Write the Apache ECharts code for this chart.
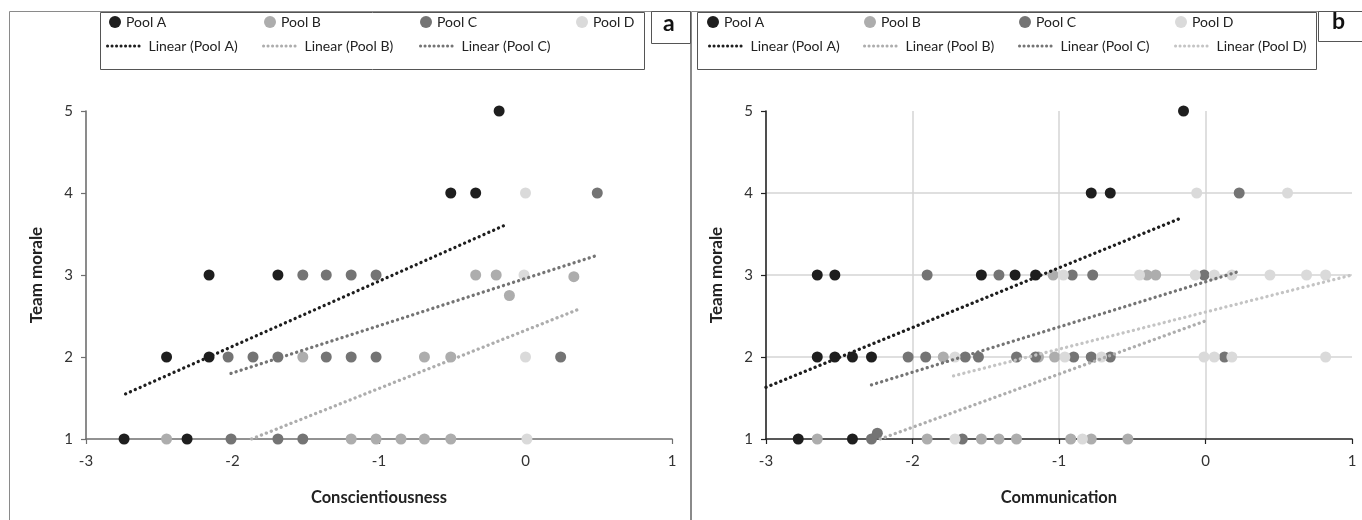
<!DOCTYPE html>
<html><head><meta charset="utf-8">
<script src="https://cdn.jsdelivr.net/npm/echarts@6/dist/echarts.min.js"></script>
<style>html,body{margin:0;padding:0;background:#fff}#c{width:1362px;height:520px}</style>
</head><body><div id="c"></div>
<script>
// ---- tick labels / names ----
const xTicks = [-3, -2, -1, 0, 1];
const yTicks = [1, 2, 3, 4, 5];
const poolNames = ['Pool A', 'Pool B', 'Pool C', 'Pool D'];
const trendNames = ['Linear (Pool A)', 'Linear (Pool B)', 'Linear (Pool C)', 'Linear (Pool D)'];
const xTitleA = 'Conscientiousness';
const xTitleB = 'Communication';
const yTitle = 'Team morale';

// ---- panel a: Conscientiousness vs Team morale ----
const aPoolA = [[-2.74,1],[-2.31,1],[-2.45,2],[-2.16,2],[-2.16,3],[-1.69,3],[-0.51,4],[-0.34,4],[-0.18,5]];
const aPoolB = [[-2.45,1],[-1.19,1],[-1.02,1],[-0.85,1],[-0.69,1],[-0.51,1],[-1.52,2],[-0.69,2],[-0.51,2],[-0.34,3],[-0.2,3],[0.33,2.98],[-0.11,2.75]];
const aPoolC = [[-2.01,1],[-1.69,1],[-1.52,1],[-2.03,2],[-1.86,2],[-1.69,2],[-1.36,2],[-1.19,2],[-1.02,2],[0.24,2],[-1.52,3],[-1.36,3],[-1.19,3],[-1.02,3],[0.49,4]];
const aPoolD = [[0,4],[-0.01,3],[0,2],[0.01,1]];
const aLinA = [[-2.73,1.55],[-0.15,3.6]];
const aLinB = [[-1.87,1.0],[0.36,2.58]];
const aLinC = [[-2.01,1.80],[0.49,3.24]];

// ---- panel b: Communication vs Team morale ----
const bPoolA = [[-2.78,1],[-2.41,1],[-2.65,2],[-2.53,2],[-2.41,2],[-2.28,2],[-2.65,3],[-2.53,3],[-1.53,3],[-1.30,3],[-1.16,3],[-0.78,4],[-0.65,4],[-0.15,5]];
const bPoolB = [[-2.65,1],[-1.90,1],[-1.53,1],[-1.41,1],[-1.29,1],[-0.92,1],[-0.78,1],[-0.53,1],[-1.79,2],[-1.14,2],[-1.03,2],[-1.04,3],[-0.40,3],[-0.34,3]];
const bPoolC = [[-2.28,1],[-2.24,1.07],[-1.66,1],[-2.03,2],[-1.91,2],[-1.64,2],[-1.55,2],[-1.29,2],[-1.16,2],[-0.90,2],[-0.78,2],[-0.65,2],[0.13,2],[-1.90,3],[-1.41,3],[-0.91,3],[-0.77,3],[-0.01,3],[0.23,4]];
const bPoolD = [[-1.71,1],[-0.84,1],[-1.71,2],[-0.96,2],[-0.71,2],[-0.01,2],[0.06,2],[0.18,2],[0.82,2],[-0.97,3],[-0.45,3],[-0.07,3],[0.06,3],[0.18,3],[0.44,3],[0.69,3],[0.82,3],[-0.06,4],[0.56,4]];
const bLinA = [[-3,1.63],[-0.16,3.7]];
const bLinB = [[-2.22,1.0],[0,2.44]];
const bLinC = [[-2.28,1.66],[0.24,3.05]];
const bLinD = [[-1.72,1.77],[1.0,3.0]];

const poolColors = ['#1e1e1e', '#adadad', '#747474', '#dadada'];
const lineColors = ['#1e1e1e', '#adadad', '#747474', '#c4c4c4'];
const FONT = 'Lato, "Liberation Sans", sans-serif';

function scatter(name, data, idx, gi) {
  return { name, type: 'scatter', xAxisIndex: gi, yAxisIndex: gi, data,
    symbol: 'circle', symbolSize: 11, itemStyle: { color: poolColors[idx], opacity: 1 }, z: 2 };
}
function trend(name, data, idx, gi) {
  return { name, type: 'line', xAxisIndex: gi, yAxisIndex: gi, data, showSymbol: false, symbol: 'none',
    lineStyle: { color: lineColors[idx], width: 3.3, type: [0.1, 5.2], cap: 'round' },
    itemStyle: { color: lineColors[idx] }, z: 5, silent: true };
}
function xAxis(gi, title, dark, grid) {
  return { type: 'value', gridIndex: gi, min: -3, max: 1, interval: 1,
    name: title, nameLocation: 'middle', nameGap: 50,
    nameTextStyle: { fontFamily: FONT, fontWeight: 'bold', fontSize: 16.5, color: '#222' },
    axisLine: { onZero: false, lineStyle: { color: dark ? '#222' : '#6f6f6f', width: 1.6 } },
    axisTick: { show: true, length: 5, lineStyle: { color: dark ? '#222' : '#6f6f6f', width: 1.2 } },
    axisLabel: { fontFamily: FONT, fontSize: 15, color: '#333', margin: 15 },
    splitLine: { show: grid, showMinLine: false, showMaxLine: false, lineStyle: { color: '#d4d4d4', width: 1.5 } } };
}
function yAxis(gi, dark, grid) {
  return { type: 'value', gridIndex: gi, min: 1, max: 5, interval: 1,
    name: yTitle, nameLocation: 'middle', nameGap: 41, nameRotate: 90,
    nameTextStyle: { fontFamily: FONT, fontWeight: 'bold', fontSize: 17, color: '#222' },
    axisLine: { show: true, onZero: false, lineStyle: { color: dark ? '#222' : '#6f6f6f', width: 1.6 } },
    axisTick: { show: true, length: 5, lineStyle: { color: dark ? '#222' : '#6f6f6f', width: 1.2 } },
    axisLabel: { fontFamily: FONT, fontSize: 15, color: '#333', margin: 13 },
    splitLine: { show: grid, showMinLine: false, showMaxLine: false, lineStyle: { color: '#d4d4d4', width: 1.5 } } };
}

const legTxt = { fontFamily: FONT, fontSize: 14, color: '#222' };
function legPool(name, left, top) {
  return { data: [{ name, icon: 'circle' }], left, top, itemWidth: 12, itemHeight: 12, itemGap: 0,
    textStyle: legTxt, selectedMode: false, padding: 0 };
}
function legLine(name, left, top) {
  return { data: [name], left, top, itemWidth: 36, itemHeight: 12, itemGap: 0,
    itemStyle: { opacity: 0 },
    lineStyle: { width: 3, type: [0.1, 4.4], cap: 'round' },
    textStyle: legTxt, selectedMode: false, padding: 0 };
}

const chart = echarts.init(document.getElementById('c'), null, { renderer: 'canvas' });
chart.setOption({
  animation: false,
  backgroundColor: '#fff',
  grid: [
    { left: 86, right: 1362 - 672, top: 111, bottom: 520 - 439 },
    { left: 766, right: 1362 - 1352, top: 111, bottom: 520 - 439 }
  ],
  xAxis: [xAxis(0, xTitleA, false, false), xAxis(1, xTitleB, true, true)],
  yAxis: [yAxis(0, false, false), yAxis(1, true, true)],
  legend: [
    legPool(poolNames[0], 109, 15), legPool(poolNames[1], 264, 15), legPool(poolNames[2], 420, 15), legPool(poolNames[3], 576, 15),
    legLine(trendNames[0], 106, 39), legLine(trendNames[1], 262, 39), legLine(trendNames[2], 419, 39),
    legPool(poolNames[0], 707, 15), legPool(poolNames[1], 864, 15), legPool(poolNames[2], 1019, 15), legPool(poolNames[3], 1175, 15),
    legLine(trendNames[0], 708, 39), legLine(trendNames[1], 863, 39), legLine(trendNames[2], 1018, 39), legLine(trendNames[3], 1174, 39)
  ],
  graphic: [
    { type: 'rect', shape: { x: 9.5, y: 11.5, width: 681, height: 520 }, style: { fill: 'none', stroke: '#8a8a8a', lineWidth: 1 }, z: -1 },
    { type: 'rect', shape: { x: 691.5, y: 11.5, width: 680, height: 520 }, style: { fill: 'none', stroke: '#8a8a8a', lineWidth: 1 }, z: -1 },
    { type: 'rect', shape: { x: 100.5, y: 12.5, width: 544, height: 57 }, style: { fill: 'none', stroke: '#555', lineWidth: 1 }, z: -1 },
    { type: 'rect', shape: { x: 697.5, y: 12.5, width: 619, height: 57 }, style: { fill: 'none', stroke: '#555', lineWidth: 1 }, z: -1 },
    { type: 'rect', shape: { x: 651.5, y: 11.5, width: 39, height: 32 }, style: { fill: '#fff', stroke: '#555', lineWidth: 1 }, z: 1 },
    { type: 'rect', shape: { x: 1318.5, y: 11.5, width: 60, height: 30 }, style: { fill: '#fff', stroke: '#555', lineWidth: 1 }, z: 1 },
    { type: 'text', left: 663, top: 12, style: { text: 'a', font: 'bold 23px ' + FONT, fill: '#111' }, z: 2 },
    { type: 'text', left: 1332, top: 10, style: { text: 'b', font: 'bold 23px ' + FONT, fill: '#111' }, z: 2 }
  ],
  series: [
    scatter(poolNames[0], aPoolA, 0, 0), scatter(poolNames[1], aPoolB, 1, 0), scatter(poolNames[2], aPoolC, 2, 0), scatter(poolNames[3], aPoolD, 3, 0),
    trend(trendNames[0], aLinA, 0, 0), trend(trendNames[1], aLinB, 1, 0), trend(trendNames[2], aLinC, 2, 0),
    scatter(poolNames[0], bPoolA, 0, 1), scatter(poolNames[1], bPoolB, 1, 1), scatter(poolNames[2], bPoolC, 2, 1), scatter(poolNames[3], bPoolD, 3, 1),
    trend(trendNames[0], bLinA, 0, 1), trend(trendNames[1], bLinB, 1, 1), trend(trendNames[2], bLinC, 2, 1), trend(trendNames[3], bLinD, 3, 1)
  ]
});
</script>
</body></html>
